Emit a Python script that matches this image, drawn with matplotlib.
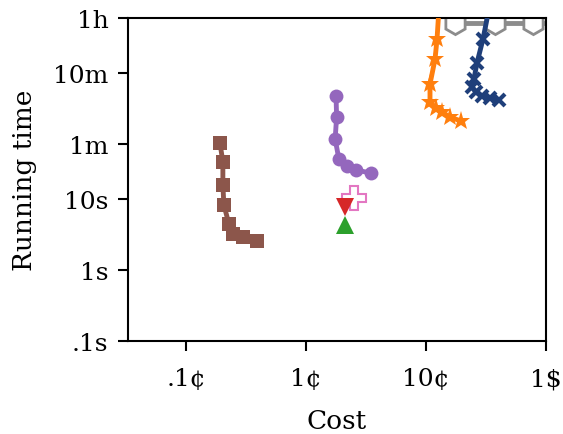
import matplotlib
matplotlib.use("Agg")
import matplotlib.pyplot as plt
from matplotlib.ticker import FixedLocator, NullLocator

plt.rcParams["font.family"] = "DejaVu Serif"

# cost in dollars, running time in seconds
brown_cost = [0.00192, 0.00203, 0.00203, 0.00207, 0.00228, 0.00247, 0.00299, 0.00391]
brown_time = [62, 33.5, 15.8, 8.3, 4.47, 3.23, 2.93, 2.57]

purple_cost = [0.0178, 0.0180, 0.0175, 0.0188, 0.0220, 0.0261, 0.0348]
purple_time = [285, 144, 70.6, 36.9, 29.4, 25.8, 23.4]

orange_cost = [0.13, 0.1236, 0.119, 0.108, 0.108, 0.121, 0.136, 0.158, 0.196]
orange_time = [7000, 1815, 949, 422, 235, 193, 170, 144, 127]

navy_cost = [0.35, 0.2985, 0.266, 0.251, 0.2415, 0.261, 0.293, 0.341, 0.406]
navy_time = [7000, 1815, 834, 496, 382, 325, 286, 268, 251]

gray_cost = [0.1744, 0.376, 0.78, 1.7]
gray_time = [3050, 3050, 3050, 3050]

red_cost, red_time = [0.0211], [7.76]
green_cost, green_time = [0.0211], [4.33]
pink_cost, pink_time = [0.0251], [10.4]

ytick_vals = [0.1, 1, 10, 60, 600, 3600]
ytick_labels = [".1s", "1s", "10s", "1m", "10m", "1h"]
xtick_vals = [0.001, 0.01, 0.1, 1]
xtick_labels = [".1¢", "1¢", "10¢", "1$"]

fig = plt.figure(figsize=(5.63, 4.35), dpi=100)
ax = fig.add_axes([0.2274, 0.2138, 0.7424, 0.7425])

lw = 3.5
ax.plot(gray_cost, gray_time, color="#8c8c8c", lw=lw, marker="h", ms=16,
        mfc="white", mec="#8c8c8c", mew=2, zorder=2)
ax.plot(orange_cost, orange_time, color="#ff7f0e", lw=lw, marker="*", ms=14,
        mew=0, zorder=3)
ax.plot(navy_cost, navy_time, color="#1f3f7a", lw=lw, marker="x", ms=8.5,
        mew=3, zorder=3)
ax.plot(purple_cost, purple_time, color="#9467bd", lw=lw, marker="o", ms=10,
        mew=0, zorder=3)
ax.plot(brown_cost, brown_time, color="#8c564b", lw=lw, marker="s", ms=9.5,
        mew=0, zorder=3)
ax.plot(pink_cost, pink_time, ls="none", marker="P", ms=17, mfc="white",
        mec="#e377c2", mew=1.5, zorder=3)
ax.plot(green_cost, green_time, ls="none", marker="^", ms=13, color="#2ca02c",
        mew=0, zorder=4)
ax.plot(red_cost, red_time, ls="none", marker="v", ms=13, color="#d62728",
        mew=0, zorder=4)

ax.set_xscale("log")
ax.set_yscale("log")
ax.set_xlim(3.29e-4, 1)
ax.set_ylim(0.1, 3600)

ax.xaxis.set_major_locator(FixedLocator(xtick_vals))
ax.xaxis.set_minor_locator(NullLocator())
ax.set_xticks(xtick_vals, xtick_labels)
ax.yaxis.set_major_locator(FixedLocator(ytick_vals))
ax.yaxis.set_minor_locator(NullLocator())
ax.set_yticks(ytick_vals, ytick_labels)

ax.tick_params(axis="both", direction="out", length=7, width=1.5,
               labelsize=18, pad=7)
ax.tick_params(axis="x", pad=12)
for sp in ax.spines.values():
    sp.set_linewidth(1.5)

ax.set_xlabel("Cost", fontsize=19, labelpad=13)
ax.set_ylabel("Running time", fontsize=19, labelpad=12)

fig.savefig("out.png", dpi=100)
